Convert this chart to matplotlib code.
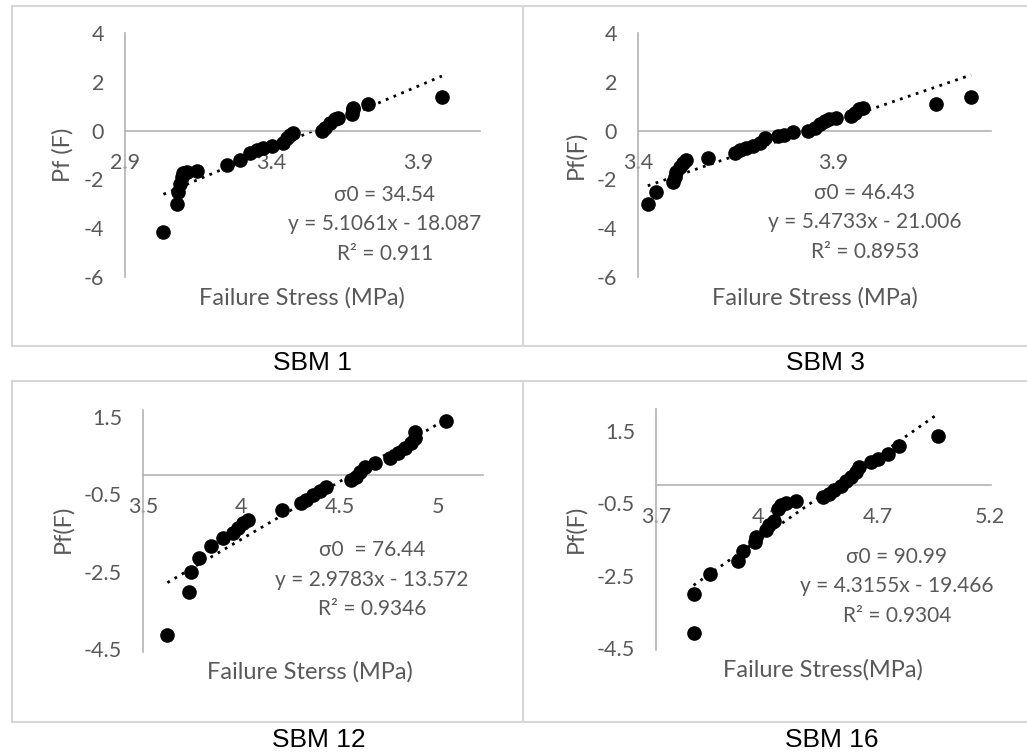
import matplotlib.pyplot as plt
from matplotlib.lines import Line2D
import numpy as np

W, H = 1027, 755

# SBM 1
sbm1_stress = [3.031, 3.076, 3.082, 3.087, 3.093, 3.099, 3.110, 3.144, 3.247, 3.292,
               3.326, 3.349, 3.372, 3.400, 3.440, 3.451, 3.463, 3.474, 3.570, 3.582,
               3.599, 3.616, 3.627, 3.673, 3.678, 3.678, 3.729, 3.980]
sbm1_pf = [-4.14, -2.99, -2.51, -2.17, -1.89, -1.75, -1.68, -1.64, -1.41, -1.20,
           -0.92, -0.79, -0.72, -0.65, -0.51, -0.30, -0.17, -0.10, -0.03, 0.11,
           0.32, 0.46, 0.52, 0.66, 0.87, 0.94, 1.08, 1.39]

# SBM 3
sbm3_stress = [3.425, 3.447, 3.490, 3.494, 3.498, 3.507, 3.515, 3.524, 3.579, 3.648,
               3.661, 3.678, 3.695, 3.712, 3.725, 3.759, 3.776, 3.797, 3.836, 3.853,
               3.866, 3.879, 3.891, 3.909, 3.947, 3.956, 3.968, 3.977, 4.165, 4.255]
sbm3_pf = [-2.99, -2.51, -2.10, -1.89, -1.68, -1.48, -1.34, -1.20, -1.13, -0.92,
           -0.79, -0.72, -0.65, -0.51, -0.30, -0.23, -0.17, -0.07, 0.00, 0.11,
           0.25, 0.39, 0.46, 0.52, 0.59, 0.73, 0.87, 0.94, 1.08, 1.39]

# SBM 12
sbm12_stress = [3.624, 3.734, 3.742, 3.785, 3.844, 3.907, 3.958, 3.983, 4.008, 4.034,
                4.208, 4.305, 4.331, 4.364, 4.398, 4.432, 4.559, 4.585, 4.602, 4.627,
                4.678, 4.754, 4.797, 4.831, 4.864, 4.881, 4.881, 5.042]
sbm12_pf = [-4.14, -3.02, -2.50, -2.14, -1.83, -1.62, -1.49, -1.38, -1.25, -1.16,
            -0.91, -0.73, -0.65, -0.52, -0.41, -0.30, -0.13, -0.04, 0.09, 0.22,
            0.30, 0.43, 0.56, 0.69, 0.82, 0.95, 1.12, 1.40]

# SBM 16
sbm16_stress = [3.869, 3.869, 3.943, 4.067, 4.090, 4.147, 4.150, 4.195, 4.210, 4.232,
                4.247, 4.262, 4.285, 4.330, 4.450, 4.480, 4.502, 4.532, 4.555, 4.577,
                4.600, 4.615, 4.667, 4.697, 4.742, 4.795, 4.967]
sbm16_pf = [-4.10, -3.00, -2.45, -2.11, -1.83, -1.57, -1.44, -1.25, -1.11, -0.98,
            -0.65, -0.56, -0.50, -0.44, -0.33, -0.24, -0.13, -0.01, 0.11, 0.22,
            0.36, 0.50, 0.63, 0.73, 0.86, 1.09, 1.37]

# Weibull fit results shown on each chart
names = ["SBM 1", "SBM 3", "SBM 12", "SBM 16"]
sigma0 = ["34.54", "46.43", "76.44", "90.99"]
slopes = [5.1061, 5.4733, 2.9783, 4.3155]
intercepts = [-18.087, -21.006, -13.572, -19.466]
r2 = ["0.911", "0.8953", "0.9346", "0.9304"]
xlabels = ["Failure Stress (MPa)", "Failure Stress (MPa)",
           "Failure Sterss (MPa)", "Failure Stress(MPa)"]
ylabels = ["Pf (F)", "Pf(F)", "Pf(F)", "Pf(F)"]
xticks = [[2.9, 3.4, 3.9], [3.4, 3.9], [3.5, 4, 4.5, 5], [3.7, 4.2, 4.7, 5.2]]
yticks = [[-6, -4, -2, 0, 2, 4], [-6, -4, -2, 0, 2, 4],
          [-4.5, -2.5, -0.5, 1.5], [-4.5, -2.5, -0.5, 1.5]]

stress = [sbm1_stress, sbm3_stress, sbm12_stress, sbm16_stress]
pf = [sbm1_pf, sbm3_pf, sbm12_pf, sbm16_pf]

# layout in pixels: plot box, limits, label positions
layout = [
    dict(box=(125, 33, 480, 277), xlim=(2.9, 4.11), ylim=(-6, 4),
         eq=(385, 195), xl=(302, 298), yl=(63, 155), name=(312, 363)),
    dict(box=(638, 33, 991, 277), xlim=(3.4, 4.306), ylim=(-6, 4),
         eq=(865, 193), xl=(815, 298), yl=(576, 155), name=(825, 363)),
    dict(box=(143, 410, 483, 652), xlim=(3.5, 5.229), ylim=(-4.57, 1.68),
         eq=(372, 550), xl=(310, 672), yl=(63, 529), name=(319, 740)),
    dict(box=(656, 409, 991, 650), xlim=(3.7, 5.207), ylim=(-4.56, 2.11),
         eq=(897, 557), xl=(823, 670), yl=(576, 529), name=(832, 740)),
]

grey = "#595959"
axis_grey = "#b3b3b3"
font = "Lato"

fig = plt.figure(figsize=(W / 100, H / 100), dpi=100)
fig.patch.set_facecolor("white")


def fx(x):
    return x / W


def fy(y):
    return 1 - y / H


# panel frames
frame = dict(color="#d6d6d6", lw=1.5, transform=fig.transFigure)
for y in (6, 346, 381, 722):
    fig.add_artist(Line2D([fx(12), 1], [fy(y), fy(y)], **frame))
for y0, y1 in ((6, 346), (381, 722)):
    fig.add_artist(Line2D([fx(12), fx(12)], [fy(y0), fy(y1)], **frame))
    fig.add_artist(Line2D([fx(523), fx(523)], [fy(y0), fy(y1)], **frame))

for i in range(4):
    lay = layout[i]
    x0, y0, x1, y1 = lay["box"]
    ax = fig.add_axes([fx(x0), fy(y1), (x1 - x0) / W, (y1 - y0) / H])
    ax.set_facecolor("none")
    ax.set_xlim(*lay["xlim"])
    ax.set_ylim(*lay["ylim"])

    for s in ("top", "right"):
        ax.spines[s].set_visible(False)
    ax.spines["bottom"].set_position(("data", 0))
    for s in ("left", "bottom"):
        ax.spines[s].set_color(axis_grey)
        ax.spines[s].set_linewidth(1.2)

    ax.set_xticks(xticks[i])
    ax.set_xticklabels([f"{t:g}" for t in xticks[i]])
    ax.set_yticks(yticks[i])
    ax.set_yticklabels([f"{t:g}" for t in yticks[i]])
    ax.tick_params(axis="x", length=0, pad=16, labelsize=15.5, labelcolor=grey)
    ax.tick_params(axis="y", length=0, pad=15, labelsize=15.5, labelcolor=grey)
    for lab in ax.get_xticklabels() + ax.get_yticklabels():
        lab.set_fontfamily(font)

    # linear trendline over the data range
    xs = np.array([min(stress[i]), max(stress[i])])
    ax.plot(xs, slopes[i] * xs + intercepts[i], color="black", lw=2,
            linestyle=(0, (1, 2)), zorder=2)
    ax.plot(stress[i], pf[i], "o", color="black", markersize=9.5, zorder=3,
            clip_on=False)

    ex, ey = lay["eq"]
    sign = "-" if intercepts[i] < 0 else "+"
    sig_txt = f"σ0  = {sigma0[i]}" if i == 2 else f"σ0 = {sigma0[i]}"
    lines = [sig_txt,
             f"y = {slopes[i]:.4f}x {sign} {abs(intercepts[i]):g}",
             f"R² = {r2[i]}"]
    for k, t in enumerate(lines):
        fig.text(fx(ex), fy(ey + k * 29.5), t, ha="center", va="center",
                 fontsize=15, color=grey, family=[font, "DejaVu Sans"])

    fig.text(fx(lay["xl"][0]), fy(lay["xl"][1]), xlabels[i], ha="center",
             va="center", fontsize=17, color=grey, family=font)
    fig.text(fx(lay["yl"][0]), fy(lay["yl"][1]), ylabels[i], ha="center",
             va="center", fontsize=17, color=grey, family=font, rotation=90)
    fig.text(fx(lay["name"][0]), fy(lay["name"][1]), names[i], ha="center",
             va="center", fontsize=19, color="black", family="Liberation Sans")

fig.savefig("out.png", dpi=100)
